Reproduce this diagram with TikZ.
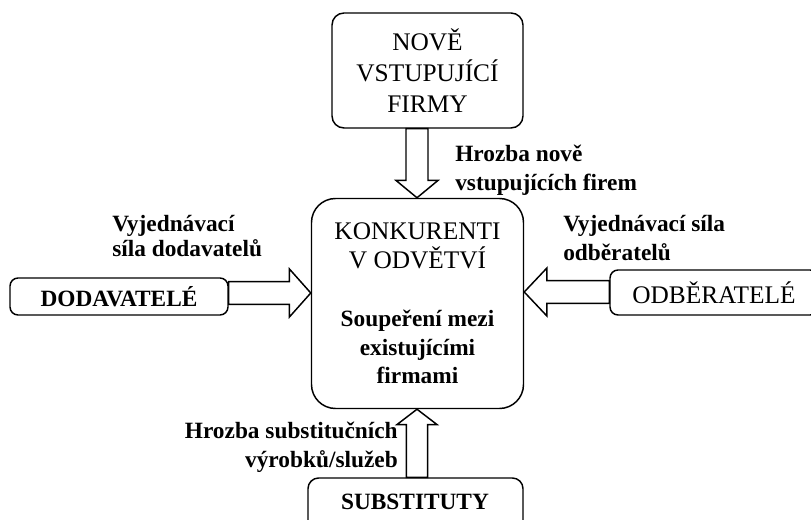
\documentclass[tikz,border=0pt]{standalone}
\usepackage{fontspec}
\setmainfont{Liberation Serif}
\usetikzlibrary{calc}
\tikzset{
  box/.style={draw=black, line width=1.1pt, fill=white, inner sep=0pt, align=center},
  regtext/.style={font=\fontsize{19}{23}\selectfont},
  lbl/.style={inner sep=0pt, font=\fontsize{17.5}{22}\selectfont\bfseries},
  barrow/.style={draw=black, line width=1.1pt, fill=white, line join=miter},
}
\newcommand\bl[1]{\textbf{\fontsize{17.5}{21.5}\selectfont #1}}
% block arrow: #1 start, #2 tip, #3 shaft half width, #4 head half width, #5 head length
\newcommand\blockarr[5]{%
  \coordinate (hb) at ($(#2)!#5!(#1)$);
  \draw[barrow] ($(#1)!#3!90:(#2)$) -- ($(hb)!#3!90:(#2)$) -- ($(hb)!#4!90:(#2)$) -- (#2)
     -- ($(hb)!#4!-90:(#2)$) -- ($(hb)!#3!-90:(#2)$) -- ($(#1)!#3!-90:(#2)$) -- cycle;
}
\begin{document}
\begin{tikzpicture}[x=0.75pt,y=-0.75pt,
  every node/.append style={font=\fontsize{17.5}{22}\selectfont}]
\useasboundingbox (0,0) rectangle (811,520);
\clip (0,0) rectangle (811,520);
% boxes
\node[box, regtext, rounded corners=9pt, minimum width=191*0.75pt, minimum height=115*0.75pt] (top) at (427.5,70.5)
  {NOVĚ\\VSTUPUJÍCÍ\\FIRMY};
\node[box, font=\fontsize{19}{21.5}\selectfont, rounded corners=18pt, minimum width=212*0.75pt, minimum height=210*0.75pt] (center) at (417.5,303.5)
  {KONKURENTI\\V ODVĚTVÍ\\[22pt]\bl{Soupeření mezi}\\\bl{existujícími}\\\bl{firmami}};
\node[box, rounded corners=6pt, minimum width=218*0.75pt, minimum height=37*0.75pt] (left) at (119,296.5)
  {\textbf{DODAVATELÉ}};
\node[box, regtext, rounded corners=6pt, minimum width=208*0.75pt, minimum height=45*0.75pt] (right) at (714,292.5)
  {ODBĚRATELÉ};
\node[box, rounded corners=8pt, minimum width=215*0.75pt, minimum height=60*0.75pt] (bottom) at (415.5,508)
  {};
\node[lbl, anchor=center] (subst) at (415,502) {SUBSTITUTY};
% arrows
\coordinate (ta) at (top.south -| 417,0);
\coordinate (tb) at (center.north -| ta);
\blockarr{ta}{tb}{8.25pt}{15.75pt}{13pt}
\coordinate (la) at (left.east |- 0,293);
\coordinate (lb) at (center.west |- la);
\blockarr{la}{lb}{8.6pt}{18pt}{16pt}
\coordinate (ra) at (right.west |- 0,292);
\coordinate (rb) at (center.east |- ra);
\blockarr{ra}{rb}{8.6pt}{18pt}{17pt}
\coordinate (ba) at (bottom.north -| 417,0);
\coordinate (bb) at (center.south -| ba);
\blockarr{ba}{bb}{8pt}{15pt}{11.5pt}
% labels
\node[lbl, anchor=west, align=left] (ltop) at (455,170) {Hrozba nově\\vstupujících firem};
\node[lbl, anchor=west, align=left, font=\fontsize{17.5}{19}\selectfont\bfseries] (lleft) at (112,236) {Vyjednávací\\síla dodavatelů};
\node[lbl, anchor=west, align=left] (lright) at (563,238) {Vyjednávací síla\\odběratelů};
\node[lbl, anchor=east, align=right] (lbottom) at (398,447) {Hrozba substitučních\\výrobků/služeb};
\end{tikzpicture}
\end{document}
